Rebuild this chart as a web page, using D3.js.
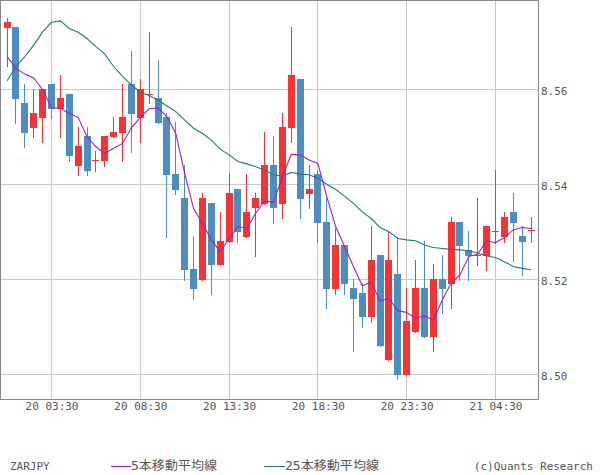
<!DOCTYPE html>
<html><head><meta charset="utf-8">
<script src="https://cdn.jsdelivr.net/npm/d3@7/dist/d3.min.js"></script>
<style>
html,body{margin:0;padding:0;background:#fff;}
svg{display:block;}
</style></head>
<body>
<svg id="c" width="600" height="475"></svg>
<script>
const symbol = "ZARJPY";
const open  = [8.5730,8.5731,8.5571,8.5519,8.5540,8.5611,8.5559,8.5590,8.5439,8.5502,
               8.5449,8.5450,8.5500,8.5509,8.5611,8.5540,8.5588,8.5582,8.5542,8.5422,
               8.5371,8.5222,8.5199,8.5361,8.5231,8.5279,8.5390,8.5290,8.5351,8.5359,
               8.5441,8.5359,8.5519,8.5622,8.5380,8.5422,8.5321,8.5180,8.5273,8.5182,
               8.5172,8.5120,8.5252,8.5031,8.5211,8.4999,8.5090,8.5182,8.5079,8.5201,
               8.5191,8.5321,8.5262,8.5251,8.5248,8.5301,8.5290,8.5342,8.5292,8.5302];
const high  = [8.5750,8.5731,8.5611,8.5601,8.5601,8.5611,8.5630,8.5590,8.5521,8.5521,
               8.5470,8.5502,8.5542,8.5611,8.5681,8.5622,8.5721,8.5662,8.5551,8.5532,
               8.5441,8.5292,8.5382,8.5361,8.5342,8.5422,8.5390,8.5422,8.5382,8.5511,
               8.5502,8.5551,8.5732,8.5622,8.5441,8.5430,8.5374,8.5307,8.5273,8.5201,
               8.5193,8.5312,8.5252,8.5302,8.5290,8.5182,8.5241,8.5281,8.5233,8.5252,
               8.5332,8.5321,8.5302,8.5372,8.5313,8.5431,8.5342,8.5382,8.5313,8.5332];
const low   = [8.5650,8.5530,8.5479,8.5500,8.5490,8.5540,8.5500,8.5450,8.5420,8.5420,
               8.5429,8.5439,8.5500,8.5450,8.5469,8.5490,8.5571,8.5530,8.5290,8.5380,
               8.5199,8.5159,8.5199,8.5170,8.5231,8.5279,8.5279,8.5290,8.5250,8.5359,
               8.5319,8.5330,8.5490,8.5330,8.5351,8.5279,8.5140,8.5170,8.5170,8.5050,
               8.5100,8.5111,8.5060,8.5031,8.4991,8.4999,8.5090,8.5079,8.5050,8.5130,
               8.5140,8.5199,8.5199,8.5231,8.5220,8.5276,8.5279,8.5239,8.5210,8.5279];
const close = [8.5742,8.5580,8.5509,8.5550,8.5601,8.5559,8.5582,8.5460,8.5481,8.5429,
               8.5451,8.5502,8.5510,8.5542,8.5549,8.5601,8.5590,8.5530,8.5420,8.5389,
               8.5220,8.5180,8.5371,8.5231,8.5281,8.5382,8.5300,8.5342,8.5371,8.5441,
               8.5351,8.5521,8.5631,8.5370,8.5390,8.5319,8.5180,8.5273,8.5191,8.5159,
               8.5120,8.5241,8.5060,8.5241,8.4999,8.5113,8.5182,8.5079,8.5201,8.5180,
               8.5321,8.5271,8.5250,8.5252,8.5313,8.5302,8.5332,8.5319,8.5279,8.5303];
const ma5   = [8.5669,8.5644,8.5632,8.5624,8.5599,8.5561,8.5560,8.5549,8.5541,8.5500,
               8.5479,8.5465,8.5476,8.5486,8.5519,8.5541,8.5559,8.5561,8.5542,8.5507,
               8.5423,8.5349,8.5318,8.5283,8.5258,8.5286,8.5311,8.5307,8.5339,8.5365,
               8.5362,8.5416,8.5463,8.5462,8.5451,8.5444,8.5374,8.5311,8.5269,8.5227,
               8.5186,8.5195,8.5154,8.5160,8.5134,8.5130,8.5118,8.5123,8.5114,8.5156,
               8.5192,8.5209,8.5248,8.5253,8.5281,8.5277,8.5288,8.5304,8.5309,8.5307];
const ma25  = [8.5618,8.5648,8.5669,8.5693,8.5721,8.5741,8.5744,8.5728,8.5720,8.5707,
               8.5690,8.5674,8.5648,8.5627,8.5609,8.5594,8.5587,8.5577,8.5565,8.5553,
               8.5535,8.5518,8.5507,8.5493,8.5474,8.5462,8.5448,8.5443,8.5437,8.5430,
               8.5420,8.5417,8.5425,8.5421,8.5420,8.5413,8.5400,8.5389,8.5375,8.5360,
               8.5342,8.5328,8.5309,8.5300,8.5286,8.5283,8.5281,8.5272,8.5267,8.5265,
               8.5263,8.5262,8.5260,8.5255,8.5249,8.5246,8.5237,8.5227,8.5223,8.5220];
const xTickBars   = [5,15,25,35,45,55];
const xTickLabels = ["20 03:30","20 08:30","20 13:30","20 18:30","20 23:30","21 04:30"];
const yTicks      = [8.50,8.52,8.54,8.56];
const legendLabels = ["5本移動平均線","25本移動平均線"];
const credit = "(c)Quants Research";

const C = {up:"#f43434", down:"#4e8dc0", ma5:"#a11fc0", ma25:"#1f7b78",
           grid:"#c8c8c8", frame:"#888888", text:"#555555"};
const font = "'DejaVu Sans Mono', monospace";
const cjkFont = "'DejaVu Sans Mono','Noto Sans CJK JP', monospace";

const svg = d3.select("#c");
const W = 538, H = 399;
const n = open.length;
const x = d3.scaleLinear().domain([0, n-1]).range([6.6, 6.6 + 8.88*(n-1)]);
const y = d3.scaleLinear().domain([8.4948, 8.5788]).range([H, 0]);
const col = i => Math.round(x(i));
const row = v => Math.round(y(v));

// gridlines
const g = svg.append("g").attr("shape-rendering","crispEdges");
g.selectAll(".hg").data(yTicks).join("line")
  .attr("x1",1).attr("x2",W).attr("y1",d=>row(d)+0.5).attr("y2",d=>row(d)+0.5)
  .attr("stroke",C.grid).attr("stroke-width",1);
g.selectAll(".vg").data(xTickBars).join("line")
  .attr("x1",d=>col(d)+0.5).attr("x2",d=>col(d)+0.5).attr("y1",1).attr("y2",H)
  .attr("stroke",C.grid).attr("stroke-width",1);

// candles
const idx = d3.range(n);
const cg = svg.append("g").attr("shape-rendering","crispEdges");
cg.selectAll(".wick").data(idx).join("rect")
  .attr("x", i=>col(i)).attr("width",1)
  .attr("y", i=>row(high[i]))
  .attr("height", i=>Math.max(1,row(low[i])-row(high[i])+1))
  .attr("fill", i=> close[i]>=open[i]?C.up:C.down);
cg.selectAll(".body").data(idx).join("rect")
  .attr("x", i=>col(i)-3).attr("width",7)
  .attr("y", i=>row(Math.max(open[i],close[i])))
  .attr("height", i=>Math.max(1,row(Math.min(open[i],close[i]))-row(Math.max(open[i],close[i]))))
  .attr("fill", i=> close[i]>=open[i]?C.up:C.down);

// moving averages
const line = arr => d3.line().x((d,i)=>x(i)+0.5).y(d=>y(d))(arr);
svg.append("path").attr("d",line(ma25)).attr("fill","none").attr("stroke",C.ma25).attr("stroke-width",1.1);
svg.append("path").attr("d",line(ma5)).attr("fill","none").attr("stroke",C.ma5).attr("stroke-width",1.1);

// frame
svg.append("rect").attr("x",0.5).attr("y",0.5).attr("width",W).attr("height",H)
  .attr("fill","none").attr("stroke",C.frame).attr("shape-rendering","crispEdges");

// axes
const yAxis = d3.axisRight(y).tickValues(yTicks).tickFormat(d3.format(".2f")).tickSize(0).tickPadding(0);
const ya = svg.append("g").attr("transform",`translate(${W+3},2)`).call(yAxis);
ya.select(".domain").remove();
ya.selectAll("text").attr("font-family",font).attr("font-size",11).attr("fill",C.text);

const xAxis = d3.axisBottom(x).tickValues(xTickBars).tickFormat((d,i)=>xTickLabels[i]).tickSize(0).tickPadding(0);
const xa = svg.append("g").attr("transform",`translate(0.5,${H+3})`).call(xAxis);
xa.select(".domain").remove();
xa.selectAll("text").attr("font-family",font).attr("font-size",11).attr("fill",C.text);

// legend
const ly = 470;
svg.append("text").attr("x",10).attr("y",ly).text(symbol)
  .attr("font-family",font).attr("font-size",11).attr("fill",C.text);
[[111,131,C.ma5,legendLabels[0],86],[264,285,C.ma25,legendLabels[1],94]].forEach(([a,b,c,t,w])=>{
  svg.append("line").attr("x1",a).attr("x2",b).attr("y1",466.5).attr("y2",466.5)
    .attr("stroke",c).attr("stroke-width",1).attr("shape-rendering","crispEdges");
  svg.append("text").attr("x",b).attr("y",ly).text(t)
    .attr("font-family",cjkFont).attr("font-size",12).attr("fill",C.text)
    .attr("textLength",w).attr("lengthAdjust","spacingAndGlyphs");
});
svg.append("text").attr("x",593).attr("y",ly).attr("text-anchor","end").text(credit)
  .attr("font-family",font).attr("font-size",11).attr("fill",C.text);
</script>
</body></html>
